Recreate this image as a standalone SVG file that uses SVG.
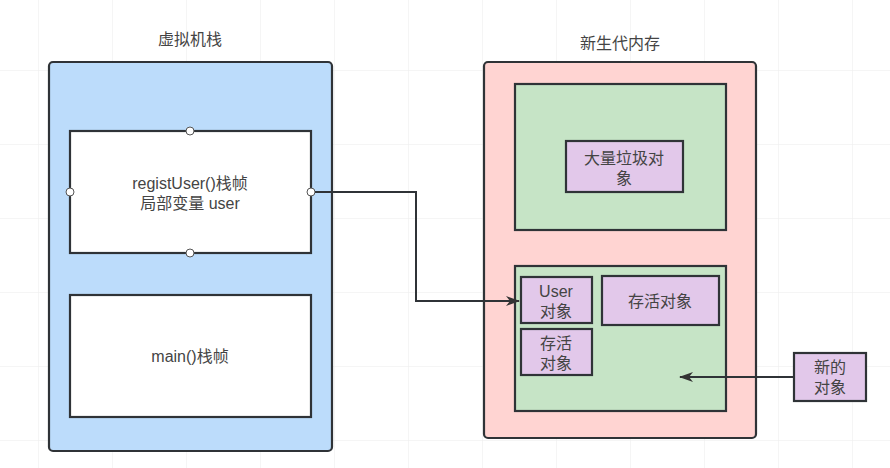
<svg xmlns="http://www.w3.org/2000/svg" width="890" height="468" viewBox="0 0 890 468">
  <defs>
    <pattern id="grid" width="74" height="74" patternUnits="userSpaceOnUse" x="38" y="-4">
      <path d="M74 0H0V74" fill="none" stroke="#ececec" stroke-width="1"/>
    </pattern>
    <marker id="arrow" viewBox="0 0 14 12" refX="13" refY="6" markerWidth="14" markerHeight="12" markerUnits="userSpaceOnUse" orient="auto">
      <path d="M0 1L14 6L0 11L4 6Z" fill="#333"/>
    </marker>
  </defs>
  <style>
    text { font-family: "Liberation Sans", "Noto Sans CJK SC", sans-serif; fill: #444; font-size: 16px; text-anchor: middle; }
    .box { stroke: #2f3337; stroke-width: 2.2; }
    .stack { fill: #bcdcfb; }
    .frame { fill: #ffffff; }
    .mem { fill: #ffd4d2; }
    .area { fill: #c6e4c6; }
    .obj { fill: #e2c8ea; }
    .handle { fill: #fff; stroke: #555; stroke-width: 1; }
    .conn { fill: none; stroke: #2f3337; stroke-width: 2; }
  </style>
  <rect width="890" height="468" fill="#ffffff"/>
  <rect width="890" height="468" fill="url(#grid)"/>

  <g id="stack-title"><text x="190" y="45">虚拟机栈</text></g>
  <g id="young-title"><text x="620" y="49">新生代内存</text></g>

  <g id="vm-stack">
    <rect class="box stack" x="49" y="62" width="283" height="389" rx="4"/>
  </g>
  <g id="regist-frame">
    <rect class="box frame" x="70" y="131" width="241" height="122"/>
    <text x="190" y="189">registUser()栈帧</text>
    <text x="190" y="209">局部变量 user</text>
    <circle class="handle" cx="190" cy="131" r="4"/>
    <circle class="handle" cx="190" cy="253" r="4"/>
    <circle class="handle" cx="70" cy="192" r="4"/>
    <circle class="handle" cx="311" cy="192" r="4"/>
  </g>
  <g id="main-frame">
    <rect class="box frame" x="70" y="295" width="241" height="122"/>
    <text x="190" y="362">main()栈帧</text>
  </g>

  <g id="young-gen">
    <rect class="box mem" x="484" y="62" width="272" height="376" rx="4"/>
  </g>
  <g id="old-area">
    <rect class="box area" x="515" y="84" width="211" height="146"/>
  </g>
  <g id="garbage">
    <rect class="box obj" x="566" y="141" width="117" height="51"/>
    <text x="624" y="164">大量垃圾对</text>
    <text x="624" y="184">象</text>
  </g>
  <g id="live-area">
    <rect class="box area" x="515" y="266" width="211" height="145"/>
  </g>
  <g id="user-obj">
    <rect class="box obj" x="521" y="277" width="71" height="46"/>
    <text x="556" y="297">User</text>
    <text x="556" y="317">对象</text>
  </g>
  <g id="live-obj-small">
    <rect class="box obj" x="521" y="329" width="71" height="46"/>
    <text x="556" y="349">存活</text>
    <text x="556" y="369">对象</text>
  </g>
  <g id="live-obj-big">
    <rect class="box obj" x="602" y="276" width="117" height="49"/>
    <text x="660" y="307">存活对象</text>
  </g>
  <g id="new-obj">
    <rect class="box obj" x="794" y="353" width="72" height="48"/>
    <text x="830" y="373">新的</text>
    <text x="830" y="393">对象</text>
  </g>

  <g id="connectors">
    <path class="conn" d="M315 192H416V301H519" marker-end="url(#arrow)"/>
    <path class="conn" d="M794 377H680" marker-end="url(#arrow)"/>
  </g>
</svg>
